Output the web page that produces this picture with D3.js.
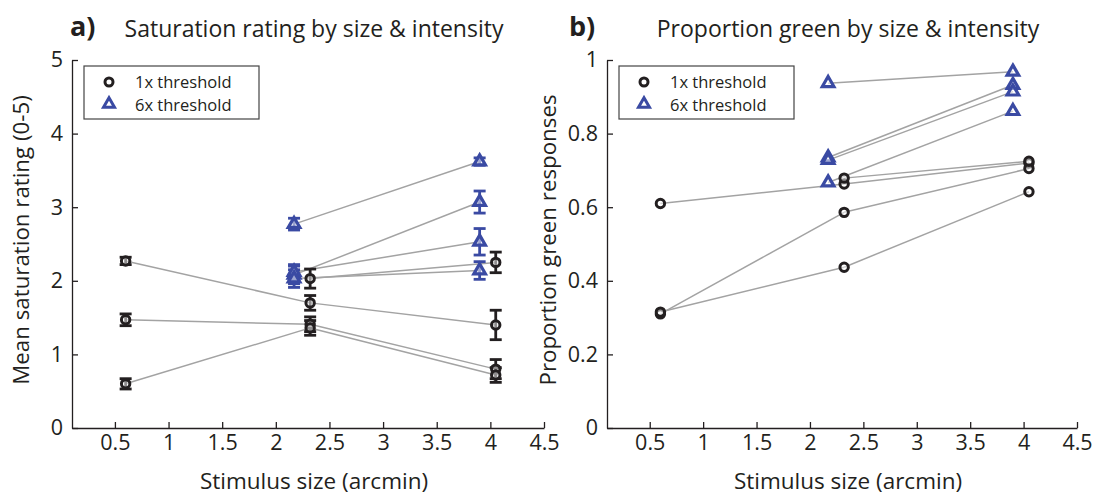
<!DOCTYPE html>
<html>
<head>
<meta charset="utf-8">
<script src="https://cdn.jsdelivr.net/npm/d3@7"></script>
<style>
  body { margin: 0; background: #fff; }
  svg { display: block; font-family: "Open Sans", sans-serif; }
  .axis path, .axis line { stroke: #231f20; stroke-width: 1.3; }
  .axis text { font-size: 21.5px; fill: #231f20; font-family: "Open Sans", sans-serif; }
</style>
</head>
<body>
<div id="chart"></div>
<script>
// stimulus sizes (arcmin)
var sizes1x = [0.6, 2.32, 4.05];
var sizes6x = [2.17, 3.9];
var xTicks = [0.5, 1, 1.5, 2, 2.5, 3, 3.5, 4, 4.5];

// panel a) mean saturation rating, one row per observer
var sat1x = [
  [2.27, 1.70, 1.40],
  [1.47, 1.41, 0.80],
  [0.60, 1.36, 0.72],
  [null, 2.03, 2.25]
];
var sat1xErr = [
  [0.05, 0.10, 0.20],
  [0.08, 0.10, 0.13],
  [0.07, 0.10, 0.10],
  [null, 0.13, 0.14]
];
var sat6x = [
  [2.77, 3.62],
  [2.08, 3.07],
  [2.12, 2.53],
  [2.03, 2.14]
];
var sat6xErr = [
  [0.08, 0.05],
  [0.12, 0.15],
  [0.10, 0.18],
  [0.12, 0.12]
];

// panel b) proportion green responses
var green1x = [
  [0.61, 0.663, 0.72],
  [0.31, 0.586, 0.705],
  [0.315, 0.437, 0.642],
  [null, 0.679, 0.725]
];
var green6x = [
  [0.937, 0.968],
  [0.735, 0.932],
  [0.728, 0.914],
  [0.667, 0.861]
];

var satTicks = [0, 1, 2, 3, 4, 5];
var greenTicks = [0, 0.2, 0.4, 0.6, 0.8, 1];
var legendLabels = ["1x threshold", "6x threshold"];

var W = 1102, H = 496;
var ink = "#231f20", blue = "#3a4aa3", grey = "#a3a3a3";

var svg = d3.select("#chart").append("svg")
  .attr("width", W)
  .attr("height", H);

function drawPanel(opt) {
  var x = d3.scaleLinear().domain([0.1, 4.5]).range([opt.left, opt.right]);
  var y = d3.scaleLinear().domain(opt.yDomain).range([428, 60]);
  var g = svg.append("g");

  g.append("g")
    .attr("class", "axis")
    .attr("transform", "translate(0,428)")
    .call(d3.axisBottom(x).tickValues(xTicks).tickFormat(d3.format("~g"))
      .tickSizeInner(-6).tickSizeOuter(0).tickPadding(7));

  g.append("g")
    .attr("class", "axis")
    .attr("transform", "translate(" + opt.left + ",0)")
    .call(d3.axisLeft(y).tickValues(opt.yTicks).tickFormat(d3.format("~g"))
      .tickSizeInner(-6).tickSizeOuter(0).tickPadding(9));

  // connecting lines
  var line = d3.line()
    .defined(function (d) { return d[1] != null; })
    .x(function (d) { return x(d[0]); })
    .y(function (d) { return y(d[1]); });

  function pairs(sizes, vals) {
    var out = [];
    for (var i = 0; i < vals.length - 1; i++) {
      if (vals[i] != null && vals[i + 1] != null)
        out.push([[sizes[i], vals[i]], [sizes[i + 1], vals[i + 1]]]);
    }
    return out;
  }
  var segs = [];
  opt.d1.forEach(function (r) { segs = segs.concat(pairs(sizes1x, r)); });
  opt.d6.forEach(function (r) { segs = segs.concat(pairs(sizes6x, r)); });

  g.selectAll(".seg").data(segs).enter().append("path")
    .attr("d", line)
    .attr("fill", "none")
    .attr("stroke", grey)
    .attr("stroke-width", 1.5);

  function points(sizes, vals, errs) {
    var out = [];
    vals.forEach(function (r, i) {
      r.forEach(function (v, j) {
        if (v != null) out.push({x: sizes[j], y: v, e: errs ? errs[i][j] : null});
      });
    });
    return out;
  }

  function errorBars(pts, color) {
    var eb = g.selectAll(null).data(pts.filter(function (d) { return d.e != null; }))
      .enter().append("g")
      .attr("stroke", color).attr("stroke-width", 2.8).attr("fill", "none");
    eb.append("line")
      .attr("x1", function (d) { return x(d.x); }).attr("x2", function (d) { return x(d.x); })
      .attr("y1", function (d) { return y(d.y - d.e); }).attr("y2", function (d) { return y(d.y + d.e); });
    eb.append("line")
      .attr("x1", function (d) { return x(d.x) - 6; }).attr("x2", function (d) { return x(d.x) + 6; })
      .attr("y1", function (d) { return y(d.y - d.e); }).attr("y2", function (d) { return y(d.y - d.e); });
    eb.append("line")
      .attr("x1", function (d) { return x(d.x) - 6; }).attr("x2", function (d) { return x(d.x) + 6; })
      .attr("y1", function (d) { return y(d.y + d.e); }).attr("y2", function (d) { return y(d.y + d.e); });
  }

  var p1 = points(sizes1x, opt.d1, opt.e1);
  var p6 = points(sizes6x, opt.d6, opt.e6);

  errorBars(p6, blue);
  g.selectAll(null).data(p6).enter().append("path")
    .attr("d", d3.symbol(d3.symbolTriangle).size(58))
    .attr("transform", function (d) { return "translate(" + x(d.x) + "," + y(d.y) + ")"; })
    .attr("fill", "#fff").attr("fill-opacity", 0.5)
    .attr("stroke", blue).attr("stroke-width", 3.2).attr("stroke-linejoin", "miter");

  errorBars(p1, ink);
  g.selectAll(null).data(p1).enter().append("circle")
    .attr("cx", function (d) { return x(d.x); })
    .attr("cy", function (d) { return y(d.y); })
    .attr("r", 4.2)
    .attr("fill", "#fff").attr("fill-opacity", 0.5)
    .attr("stroke", ink).attr("stroke-width", 3);

  // legend
  var lg = g.append("g").attr("transform", "translate(" + (opt.left + 12) + ",66)");
  lg.append("rect").attr("width", 175).attr("height", 53)
    .attr("fill", "#fff").attr("stroke", "#444").attr("stroke-width", 1.2);
  lg.append("circle").attr("cx", 25).attr("cy", 16).attr("r", 4)
    .attr("fill", "#fff").attr("stroke", ink).attr("stroke-width", 3);
  lg.append("path").attr("d", d3.symbol(d3.symbolTriangle).size(52))
    .attr("transform", "translate(25,38)")
    .attr("fill", "#fff").attr("stroke", blue).attr("stroke-width", 3);
  lg.selectAll("text").data(legendLabels).enter().append("text")
    .attr("x", 51).attr("y", function (d, i) { return 22 + i * 22.5; })
    .attr("font-size", 16.5).attr("fill", ink)
    .text(function (d) { return d; });

  // titles and labels
  var cx = (opt.left + opt.right) / 2;
  g.append("text").attr("x", cx + 6).attr("y", 37).attr("text-anchor", "middle")
    .attr("font-size", 23).attr("fill", ink).text(opt.title);
  g.append("text").attr("x", opt.letterX).attr("y", 36)
    .attr("font-size", 27).attr("font-weight", "bold").attr("fill", ink).text(opt.letter);
  g.append("text").attr("x", cx + 6).attr("y", 489).attr("text-anchor", "middle")
    .attr("font-size", 22.5).attr("fill", ink).text("Stimulus size (arcmin)");
  g.append("text")
    .attr("transform", "translate(" + opt.yLabelX + ",240) rotate(-90)")
    .attr("text-anchor", "middle")
    .attr("font-size", 22.3).attr("fill", ink).text(opt.yLabel);
}

drawPanel({
  left: 72, right: 544, yDomain: [0, 5], yTicks: satTicks,
  d1: sat1x, e1: sat1xErr, d6: sat6x, e6: sat6xErr,
  title: "Saturation rating by size & intensity", letter: "a)", letterX: 70,
  yLabel: "Mean saturation rating (0-5)", yLabelX: 29
});

drawPanel({
  left: 607, right: 1077, yDomain: [0, 1], yTicks: greenTicks,
  d1: green1x, e1: null, d6: green6x, e6: null,
  title: "Proportion green by size & intensity", letter: "b)", letterX: 569,
  yLabel: "Proportion green responses", yLabelX: 556
});
</script>
</body>
</html>
